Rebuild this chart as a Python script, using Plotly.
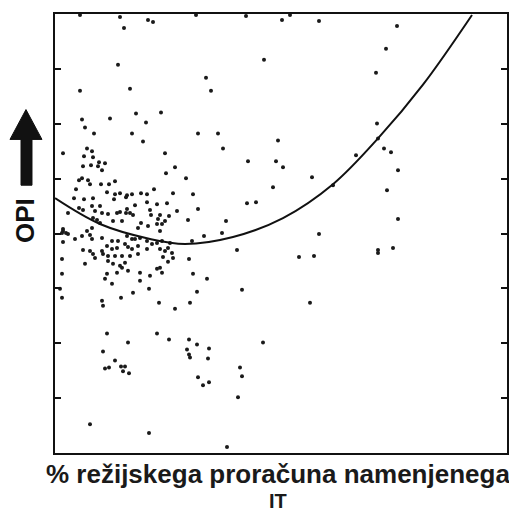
import plotly.graph_objects as go

# % of overhead budget devoted to IT (x) and OPI (y)
it_pct = [2.5, 6.5, 9.3, 9.8, 6.9, 19.1, 22.7, 23.5, 26.4, 34.2, 14.1,
          6.3, 20.9, 15.1, 15.6, 2.5, 7.5, 33.1, 32.1,
          2.7, 5.5, 8.1, 10.6, 9.1, 3.0, 3.9, 7.7, 8.8, 14.3, 16.3, 16.8, 32.2, 32.3, 22.3, 32.9, 33.6, 30.1,
          0.8, 3.2, 3.7, 11.0, 19.3, 22.1, 22.8, 34.3, 25.7, 21.8, 33.2, 27.8, 20.1,
          2.9, 3.8, 2.8, 3.6, 4.3, 4.4, 5.0, 4.7, 12.0, 11.1, 13.1,
          2.4, 2.7, 3.3, 3.5, 4.6, 5.4, 6.0,
          2.1, 5.2, 6.0, 6.5, 7.2, 7.7, 8.6, 9.2, 9.9, 11.8, 13.8,
          1.9, 2.9, 3.8, 5.9, 7.1, 19.2,
          1.3, 2.4, 2.8, 3.7, 4.0, 4.5, 4.7, 3.8, 4.2, 4.5, 5.3, 6.2, 6.5, 7.1, 5.8, 6.7, 3.7, 0.8,
          8.0, 9.2, 10.2, 11.2, 14.3, 12.2, 7.2, 7.5, 7.8, 9.5, 9.6, 10.5, 10.3, 11.0, 11.4, 13.3, 8.6, 8.3, 9.3, 10.2, 10.7,
          17.1, 16.7, 14.9, 13.7, 34.3, 26.4, 33.8, 32.3,
          0.8, 1.1, 0.7, 1.3, 3.2, 2.0, 2.7, 3.5, 0.8, 3.7, 4.7, 5.7, 6.3, 7.0, 5.2, 5.7, 6.2, 2.8, 3.5, 3.8, 4.0,
          4.7, 4.8, 5.3, 6.0, 6.7, 0.7, 3.0, 5.3, 5.8, 6.5, 7.0, 0.7, 5.2, 5.0, 6.2, 6.7, 5.7, 0.5, 0.7, 4.7, 4.8, 6.6,
          10.5, 7.2, 7.7, 8.0, 8.5, 9.2, 9.7, 10.2, 10.7, 11.5, 7.3, 7.7, 8.3, 9.2, 10.5, 11.0, 11.3, 7.5, 8.3, 10.8,
          11.7, 11.8, 11.3, 13.4, 7.3, 8.5, 9.5, 10.2, 10.5, 10.7, 8.5, 13.8, 9.4, 7.8, 14.2, 10.4, 13.5, 12.0,
          18.2, 18.7, 18.5, 18.7, 18.3, 15.2, 5.2, 7.3, 10.2, 11.4, 13.4, 14.2, 15.4, 13.2, 13.4, 13.5, 15.3,
          4.8, 6.0, 5.0, 5.4, 6.6, 7.0, 6.8, 7.4, 14.3, 14.8, 15.4, 3.5, 9.4, 17.2,
          24.4, 25.9, 32.3, 25.5, 20.8]
opi = [44.0, 43.8, 43.5, 43.3, 42.7, 43.9, 43.5, 44.0, 43.4, 42.9, 44.0,
       39.0, 39.5, 37.7, 36.4, 36.4, 36.6, 40.6, 38.2,
       33.5, 33.6, 34.1, 34.2, 33.2, 32.7, 32.1, 32.1, 31.3, 32.1, 32.1, 30.6, 33.1, 31.6, 31.4, 30.6, 30.2, 29.9,
       30.1, 30.6, 30.3, 30.1, 29.3, 29.3, 28.7, 28.4, 27.7, 26.7, 26.4, 26.9, 25.2,
       29.8, 29.7, 28.8, 28.9, 28.8, 29.2, 29.1, 28.4, 28.7, 28.1, 27.6,
       27.4, 27.6, 27.4, 27.0, 27.0, 27.0, 27.3,
       26.5, 26.2, 26.0, 26.1, 25.9, 26.0, 26.1, 26.0, 26.5, 26.1, 26.0,
       25.6, 25.5, 25.6, 25.5, 25.7, 25.1,
       24.1, 24.6, 24.4, 24.8, 24.3, 24.8, 24.1, 23.6, 23.4, 23.1, 24.0, 24.1, 24.2, 24.1, 23.3, 23.3, 22.6, 22.5,
       24.9, 25.2, 25.0, 25.1, 24.5, 24.3, 24.5, 24.1, 23.9, 24.4, 23.9, 23.9, 23.5, 23.3, 23.8, 23.4, 23.1, 22.6, 22.8, 23.0, 23.0,
       23.3, 22.1, 21.8, 21.3, 23.5, 22.0, 20.6, 20.4,
       22.3, 22.1, 22.1, 22.0, 22.3, 21.5, 21.8, 21.9, 21.2, 21.5, 21.6, 21.3, 21.3, 21.0, 20.8, 20.5, 20.6, 20.4, 20.3, 20.0, 19.6,
       20.3, 20.0, 19.8, 19.8, 19.8, 19.5, 19.0, 19.3, 19.0, 18.8, 19.1, 18.0, 18.0, 17.5, 18.1, 18.6, 17.0, 16.5, 15.6, 15.3, 14.8, 15.6,
       22.3, 21.8, 21.5, 21.5, 21.6, 21.3, 21.0, 21.1, 21.3, 21.1, 20.7, 20.5, 20.8, 20.5, 20.5, 20.3, 20.6, 19.8, 20.0, 19.7,
       20.1, 19.6, 19.2, 19.5, 18.3, 18.1, 17.8, 18.5, 18.6, 18.1, 17.3, 18.0, 16.5, 16.1, 16.2, 15.1, 15.1, 14.5,
       20.4, 16.4, 8.6, 7.7, 5.6, 17.5, 12.0, 11.1, 12.0, 11.4, 11.4, 10.9, 10.5, 10.4, 9.9, 9.6, 9.5,
       10.2, 9.3, 8.5, 8.6, 8.7, 8.7, 8.2, 8.0, 7.6, 6.8, 7.1, 2.9, 2.0, 0.6,
       19.7, 19.8, 20.1, 15.1, 11.1]

# fitted curve, points
curve_x = [0.0, 4.5, 9.5, 13.0, 17.8, 22.8, 27.8, 32.3, 36.8, 41.7]
curve_y = [25.6, 23.0, 21.5, 21.0, 21.7, 23.6, 27.0, 31.6, 37.0, 44.0]

x_title_1 = "<b>% režijskega proračuna namenjenega</b>"
x_title_2 = "<b>IT</b>"
y_title = "<b>OPI</b>"

# the page body has an 8px margin, so the figure starts at (8, 8) in the window
OFF = 8
W, H = 517 - OFF, 512 - OFF
L, R, T, B = 55 - OFF, 10, 12 - OFF, 59
PW, PH = W - L - R, H - T - B


def px(xp):
    return (xp - OFF - L) / PW


def py(yp):
    return (H - B - (yp - OFF)) / PH


fig = go.Figure()
fig.add_trace(go.Scatter(x=it_pct, y=opi, mode="markers",
                         marker=dict(color="#1a1a1a", size=4),
                         cliponaxis=False, showlegend=False, hoverinfo="x+y"))
fig.add_trace(go.Scatter(x=curve_x, y=curve_y, mode="lines",
                         line=dict(color="#111111", width=2, shape="spline"),
                         showlegend=False))

arrow = [(10, 138), (26, 108), (42, 138), (32, 138), (32, 184), (21, 184), (21, 138)]
path = "M " + " L ".join(f"{px(a):.4f},{py(b):.4f}" for a, b in arrow) + " Z"
fig.add_shape(type="path", xref="paper", yref="paper", path=path,
              fillcolor="#111111", line=dict(color="#111111", width=1))

fig.add_annotation(xref="paper", yref="paper", x=px(25), y=py(219),
                   text=y_title, textangle=-90, showarrow=False,
                   font=dict(family="Liberation Sans", size=26, color="#111111"),
                   xanchor="center", yanchor="middle")
fig.add_annotation(xref="paper", yref="paper", x=px(278), y=py(458),
                   text=x_title_1, showarrow=False, align="center", borderpad=0,
                   font=dict(family="Liberation Sans", size=26, color="#1a1a1a"),
                   xanchor="center", yanchor="top")
fig.add_annotation(xref="paper", yref="paper", x=px(278), y=py(489),
                   text=x_title_2, showarrow=False, align="center", borderpad=0,
                   font=dict(family="Liberation Sans", size=20, color="#1a1a1a"),
                   xanchor="center", yanchor="top")

fig.update_layout(
    width=W, height=H,
    margin=dict(l=L, r=R, t=T, b=B),
    plot_bgcolor="white", paper_bgcolor="white",
    font=dict(family="Liberation Sans"),
    xaxis=dict(range=[0, 45.2], showgrid=False, zeroline=False,
               showline=True, linecolor="#111111", linewidth=2, mirror=True,
               showticklabels=False, ticks=""),
    yaxis=dict(range=[0, 44.1], showgrid=False, zeroline=False,
               showline=True, linecolor="#111111", linewidth=2, mirror="ticks",
               showticklabels=False, ticks="inside", ticklen=6, tickwidth=1.5,
               tickcolor="#111111", tick0=0, dtick=5.5125),
)

fig.write_html("out.html")
